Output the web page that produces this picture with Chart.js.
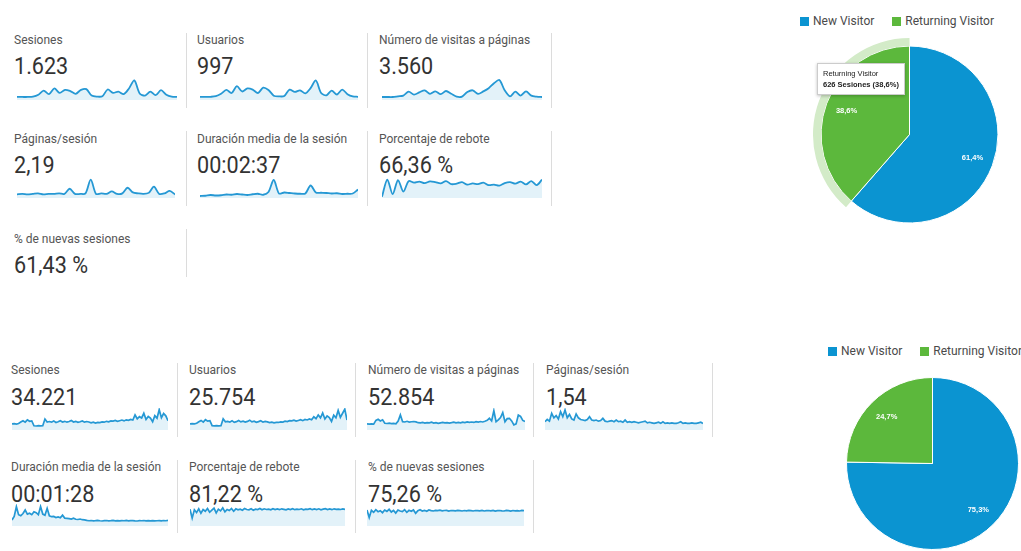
<!DOCTYPE html>
<html lang="es">
<head>
<meta charset="utf-8">
<title>Resumen de audiencia</title>
<script src="https://cdn.jsdelivr.net/npm/chart.js@4.4.1/dist/chart.umd.min.js"></script>
<style>
    html, body { margin: 0; padding: 0; background: #fff; }
    body { width: 1021px; height: 551px; overflow: hidden; position: relative; font-family: Roboto, "Noto Sans", Arial, sans-serif; }
    .lbl { position: absolute; font-size: 12px; line-height: 14px; color: #555; white-space: nowrap; }
    .val { position: absolute; font-size: 24px; line-height: 24px; color: #333; white-space: nowrap; transform: scaleX(0.9); transform-origin: 0 0; }
    .spark, .pie { position: absolute; }
    .sep { position: absolute; width: 1px; background: #dcdcdc; }
    .legend { position: absolute; display: flex; gap: 18px; font-size: 12px; line-height: 14px; color: #4a4a4a; white-space: nowrap; }
    .legend .item { display: flex; align-items: center; }
    .legend .box { width: 9px; height: 9px; margin-right: 4px; }
    .tip { position: absolute; background: #fff; border: 1px solid #ccc; box-shadow: 0 1px 3px rgba(0,0,0,0.25); font-family: Arial, sans-serif; font-size: 7.5px; line-height: 11px; color: #222; padding: 4px 5px; white-space: nowrap; }
    .tip b { font-weight: bold; }
</style>
</head>
<body>
<script>
// ---- Panel superior (un mes) ----
const topLabels = ['Sesiones', 'Usuarios', 'Número de visitas a páginas', 'Páginas/sesión', 'Duración media de la sesión', 'Porcentaje de rebote', '% de nuevas sesiones'];
const topValues = ['1.623', '997', '3.560', '2,19', '00:02:37', '66,36 %', '61,43 %'];

const sesionesA = [22, 22, 22, 24, 35, 58, 38, 70, 45, 62, 55, 40, 62, 66, 30, 24, 26, 64, 45, 52, 38, 70, 115, 42, 30, 52, 32, 60, 35, 24, 22];
const usuariosA = [22, 22, 22, 25, 38, 58, 42, 78, 50, 66, 60, 42, 70, 58, 28, 24, 26, 60, 48, 56, 40, 68, 108, 42, 30, 55, 34, 60, 36, 24, 22];
const paginasVistasA = [22, 22, 22, 26, 30, 52, 36, 48, 60, 40, 54, 38, 56, 40, 24, 24, 50, 60, 40, 54, 72, 100, 118, 60, 26, 52, 30, 54, 30, 24, 22];
const paginasSesionA = [1.9, 2.0, 1.9, 2.0, 2.1, 1.9, 2.0, 2.0, 2.1, 2.0, 3.0, 2.0, 2.0, 2.1, 4.8, 2.0, 2.1, 2.0, 2.5, 2.0, 2.1, 3.2, 2.3, 2.1, 2.0, 2.2, 3.4, 2.0, 2.1, 2.6, 1.9];
const duracionA = [100, 105, 120, 110, 115, 130, 125, 140, 130, 120, 135, 145, 125, 180, 420, 150, 170, 160, 150, 145, 150, 310, 170, 165, 160, 150, 155, 140, 145, 150, 230];
const reboteA = [15, 82, 25, 80, 35, 76, 70, 74, 68, 75, 72, 67, 76, 64, 66, 72, 62, 67, 64, 70, 60, 62, 58, 68, 72, 66, 74, 63, 76, 60, 82];

// ---- Panel inferior (un año) ----
const bottomLabels = ['Sesiones', 'Usuarios', 'Número de visitas a páginas', 'Páginas/sesión', 'Duración media de la sesión', 'Porcentaje de rebote', '% de nuevas sesiones'];
const bottomValues = ['34.221', '25.754', '52.854', '1,54', '00:01:28', '81,22 %', '75,26 %'];

const sesionesB = [42, 44, 40, 45, 60, 72, 58, 80, 66, 70, 24, 22, 25, 23, 24, 88, 60,
    64, 58, 70, 55, 62, 72, 60, 66, 58, 64, 74, 60, 66, 56, 62, 70, 58, 64, 60,
    52, 58, 50, 56, 54, 60, 58, 66, 62, 70, 68, 74, 66, 72, 78, 70, 80, 76, 84, 78,
    126, 90, 110, 98, 142, 84, 112, 96, 62, 120, 96, 176, 100, 140, 118, 72];
const usuariosB = [38, 40, 37, 42, 55, 66, 52, 72, 60, 64, 22, 20, 23, 21, 22, 80, 55,
    58, 52, 64, 50, 56, 66, 54, 60, 52, 58, 68, 54, 60, 50, 56, 64, 52, 58, 54,
    48, 52, 46, 50, 49, 54, 52, 60, 56, 64, 62, 68, 60, 66, 72, 64, 74, 70, 78, 72,
    96, 80, 112, 88, 128, 78, 104, 90, 58, 110, 88, 150, 92, 126, 160, 70];
const paginasVistasB = [58, 55, 60, 56, 120, 138, 110, 130, 70, 66, 72, 64, 68, 62, 110, 215,
    98, 92, 104, 90, 96, 100, 94,
    80, 76, 84, 72, 82, 78, 88, 74, 80, 70, 78, 86, 76, 82, 72, 80, 90, 78, 84, 76, 88, 82, 94, 86, 92, 84, 98, 90, 100, 92, 104,
    120, 156, 110, 288, 98, 130, 170, 254, 96, 150, 156, 110, 40, 60, 213, 190, 120, 100];
const paginasSesionB = [1.9, 2.3, 2.0, 3.4, 2.6, 3.0, 2.4, 3.7, 2.8, 4.0, 2.6, 3.2,
    2.4, 2.2, 3.3, 2.6, 2.3, 2.2, 2.1, 2.3, 2.8, 2.2, 2.1, 2.2,
    2.0, 2.1, 2.5, 2.0, 1.9, 2.0, 2.1, 1.9, 2.2, 1.9, 2.0, 1.8,
    2.2, 1.8, 1.9, 1.8, 1.9, 1.8, 1.7, 1.8, 1.9, 2.0, 1.7, 1.8,
    1.7, 1.6, 1.7, 1.8, 1.6, 1.9, 1.6, 1.7, 1.6, 1.7, 1.6, 1.6,
    1.7, 1.9, 1.6, 1.7, 1.6, 1.6, 1.7, 1.6, 1.6, 1.7, 1.8, 1.6];
const duracionB = [58, 120, 288, 150, 130, 170, 230, 160, 175, 150, 200, 185, 150, 290, 160, 140, 260, 130, 115, 120, 100, 110, 95, 140, 90, 85,
    80, 72, 88, 70, 66, 74, 62, 60,
    50, 44, 48, 42, 46, 52, 44, 40, 46, 48, 42, 45, 50, 43, 47, 41, 46, 44, 49, 42,
    45, 47, 43, 40, 46, 44, 48, 42, 45, 43, 47, 41, 44, 46, 42, 48, 44, 50];
const reboteB = [82, 30, 78, 62, 84, 58, 80, 70, 86, 64, 76, 88, 60, 82, 72, 90, 66, 80, 74, 86,
    70, 84, 78, 82, 76, 86, 80, 78, 84, 76, 82, 80, 86, 78, 84, 80, 82, 78, 85, 80,
    83, 79, 84, 81, 78, 83, 80, 85, 79, 82, 80, 84, 78, 82, 81, 85, 79, 83, 80, 84,
    78, 82, 85, 80, 83, 79, 84, 81, 82, 80, 83, 81];
const nuevasB = [80, 35, 78, 66, 82, 70, 76, 64, 80, 72, 84, 68, 78, 62, 80, 74, 70, 82, 66, 78,
    72, 80, 60, 76, 82, 74, 78, 72, 80, 76, 74, 78, 76, 79, 75, 77, 78, 74, 77, 76,
    75, 78, 76, 74, 77, 75, 78, 76, 74, 77, 76, 75, 78, 74, 76, 77, 75, 78, 73, 76,
    77, 75, 74, 78, 76, 73, 77, 75, 76, 74, 78, 76];

// ---- Tipo de visitante (sesiones) ----
const visitorTypes = ['New Visitor', 'Returning Visitor'];
const visitorsA = [997, 626];
const visitorsB = [25755, 8466];

const blue = '#0b94d1';
const green = '#5cb83c';

// ---- layout ----
const topTextPos = [[14, 33, 54], [197, 33, 54], [379, 33, 54], [14, 132, 153], [197, 132, 153], [379, 132, 153], [14, 232, 253]];
const bottomTextPos = [[11, 363, 385], [189, 363, 385], [368, 363, 385], [546, 363, 385], [11, 460, 482], [189, 460, 482], [368, 460, 482]];
const topSparkBox = [[17, 79, 160, 21], [200, 79, 158, 21], [382, 79, 160, 21], [17, 178, 158, 20], [200, 178, 158, 20], [382, 178, 160, 20]];
const bottomSparkBox = [[12, 408, 156, 22], [190, 408, 157, 22], [367, 408, 158, 22], [545, 408, 158, 22], [12, 504, 156, 22], [190, 504, 155, 22], [367, 504, 157, 22]];
const topRanges = [[5, 123], [5, 116], [5, 124], [1.2, 5.1], [60, 460], [10, 88]];
const bottomRanges = [[-16, 192], [-14, 170], [-47, 335], [0.41, 4.36], [-47, 335], [-16, 112], [-16, 116]];
const separators = [[186, 33, 75], [367, 33, 75], [551, 33, 75], [186, 131, 75], [367, 131, 75], [551, 131, 75], [186, 229, 48],
    [177, 363, 74], [355, 363, 74], [533, 363, 74], [712, 363, 74], [177, 460, 73], [355, 460, 73], [533, 460, 73]];

Chart.defaults.animation = false;
Chart.defaults.font.family = 'Roboto, "Noto Sans", sans-serif';

function place(el, left, top, width, height) {
    el.style.left = left + 'px';
    el.style.top = top + 'px';
    if (width !== undefined) el.style.width = width + 'px';
    if (height !== undefined) el.style.height = height + 'px';
    document.body.appendChild(el);
    return el;
}

function addText(cls, text, left, top) {
    const el = document.createElement('div');
    el.className = cls;
    el.textContent = text;
    return place(el, left, top);
}

function sparkline(box, data, range, tension, width) {
    const wrap = document.createElement('div');
    wrap.className = 'spark';
    place(wrap, box[0], box[1], box[2], box[3]);
    const canvas = document.createElement('canvas');
    wrap.appendChild(canvas);
    new Chart(canvas.getContext('2d'), {
        type: 'line',
        data: {
            labels: data.map((_, i) => i),
            datasets: [{
                data: data,
                borderColor: '#2598d4',
                backgroundColor: 'rgba(37, 152, 212, 0.13)',
                borderWidth: width,
                fill: 'start',
                tension: tension,
                pointRadius: 0
            }]
        },
        options: {
            responsive: true,
            maintainAspectRatio: false,
            events: [],
            layout: { padding: 0 },
            plugins: { legend: { display: false }, tooltip: { enabled: false } },
            scales: {
                x: { display: false },
                y: { display: false, min: range[0], max: range[1] }
            }
        }
    });
}

separators.forEach(s => {
    const el = document.createElement('div');
    el.className = 'sep';
    place(el, s[0], s[1], undefined, s[2]);
});

topLabels.forEach((label, i) => {
    addText('lbl', label, topTextPos[i][0], topTextPos[i][1]);
    addText('val', topValues[i], topTextPos[i][0], topTextPos[i][2]);
});
bottomLabels.forEach((label, i) => {
    addText('lbl', label, bottomTextPos[i][0], bottomTextPos[i][1]);
    addText('val', bottomValues[i], bottomTextPos[i][0], bottomTextPos[i][2]);
});

[sesionesA, usuariosA, paginasVistasA, paginasSesionA, duracionA, reboteA].forEach((series, i) => {
    sparkline(topSparkBox[i], series, topRanges[i], 0.3, 1.8);
});
[sesionesB, usuariosB, paginasVistasB, paginasSesionB, duracionB, reboteB, nuevasB].forEach((series, i) => {
    sparkline(bottomSparkBox[i], series, bottomRanges[i], 0, 1.7);
});

// ---- pies ----
function fmtPct(v) {
    return (v * 100).toFixed(1).replace('.', ',') + '%';
}

const sliceLabels = {
    id: 'sliceLabels',
    afterDatasetsDraw(chart) {
        const idx = chart.data.datasets.length - 1;
        const meta = chart.getDatasetMeta(idx);
        const data = chart.data.datasets[idx].data;
        const total = data.reduce((a, b) => a + b, 0);
        const ctx = chart.ctx;
        ctx.save();
        ctx.fillStyle = '#fff';
        ctx.font = 'bold 7.5px Arial, sans-serif';
        ctx.textAlign = 'center';
        ctx.textBaseline = 'middle';
        meta.data.forEach((arc, i) => {
            const p = arc.getProps(['x', 'y', 'startAngle', 'endAngle', 'outerRadius'], true);
            const mid = (p.startAngle + p.endAngle) / 2;
            const r = p.outerRadius * 0.76;
            ctx.fillText(fmtPct(data[i] / total), p.x + Math.cos(mid) * r, p.y + Math.sin(mid) * r);
        });
        ctx.restore();
    }
};

function pieChart(box, values, highlight) {
    const wrap = document.createElement('div');
    wrap.className = 'pie';
    place(wrap, box[0], box[1], box[2], box[2]);
    const canvas = document.createElement('canvas');
    wrap.appendChild(canvas);
    const datasets = [];
    if (highlight !== null) {
        // pale ring round the hovered slice
        datasets.push({
            data: values,
            backgroundColor: values.map((_, i) => i === highlight ? '#d3ebc8' : 'rgba(0,0,0,0)'),
            borderWidth: 0,
            hoverOffset: 0,
            weight: 1
        });
    }
    datasets.push({
        data: values,
        backgroundColor: [blue, green],
        borderColor: '#fff',
        borderWidth: 1,
        hoverBorderWidth: 1,
        hoverOffset: 0,
        weight: 11
    });
    return new Chart(canvas.getContext('2d'), {
        type: 'pie',
        data: { labels: visitorTypes, datasets: datasets },
        options: {
            responsive: true,
            maintainAspectRatio: false,
            events: [],
            layout: { padding: 0 },
            plugins: { legend: { display: false }, tooltip: { enabled: false } }
        },
        plugins: [sliceLabels]
    });
}

function htmlLegend(chart, left, top) {
    const el = document.createElement('div');
    el.className = 'legend';
    const ds = chart.data.datasets[chart.data.datasets.length - 1];
    chart.data.labels.forEach((label, i) => {
        const item = document.createElement('div');
        item.className = 'item';
        const box = document.createElement('span');
        box.className = 'box';
        box.style.background = ds.backgroundColor[i];
        const txt = document.createElement('span');
        txt.textContent = label;
        item.appendChild(box);
        item.appendChild(txt);
        el.appendChild(item);
    });
    place(el, left, top);
}

const pieA = pieChart([813, 38, 193], visitorsA, 1);
const pieB = pieChart([846, 377, 173], visitorsB, null);
htmlLegend(pieA, 800, 14);
htmlLegend(pieB, 828, 344);

// tooltip shown over the returning-visitor slice
const tip = document.createElement('div');
tip.className = 'tip';
const totalA = visitorsA[0] + visitorsA[1];
tip.innerHTML = visitorTypes[1] + '<br><b>' + visitorsA[1] + ' Sesiones (' + fmtPct(visitorsA[1] / totalA) + ')</b>';
place(tip, 817, 63);
</script>
</body>
</html>
